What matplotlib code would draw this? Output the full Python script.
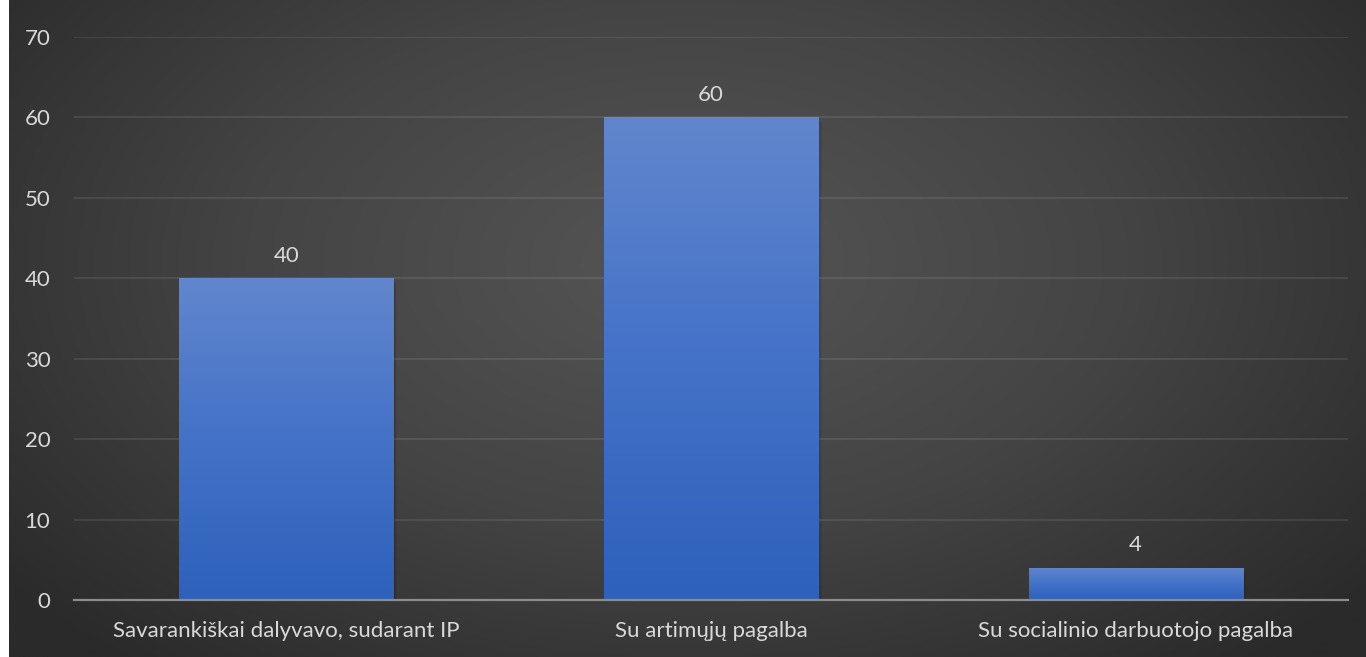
import numpy as np
import matplotlib
matplotlib.use("Agg")
import matplotlib.pyplot as plt
from matplotlib.colors import LinearSegmentedColormap
from matplotlib.patches import Rectangle

categories = ["Savarankiškai dalyvavo, sudarant IP", "Su artimųjų pagalba", "Su socialinio darbuotojo pagalba"]
values = [40, 60, 4]
y_ticks = [0, 10, 20, 30, 40, 50, 60, 70]

plt.rcParams['font.family'] = ['Lato', 'DejaVu Sans']
text_color = "#d9d9d9"
fs = 16

W, H = 1366, 657
fig = plt.figure(figsize=(W / 100, H / 100), dpi=100, facecolor="white")

# dark radial backdrop
bg = fig.add_axes([9 / W, 0, 1 - 9 / W, 1])
bg.set_axis_off()
yy, xx = np.mgrid[0:1:400j, 0:1:800j]
r = np.sqrt(((xx - 0.5) / 0.65) ** 2 + ((yy - 0.4) / 0.8) ** 2)
r = np.clip(r, 0, 1)
bg_cmap = LinearSegmentedColormap.from_list("bg", ["#555555", "#444444", "#2a2a2a"])
bg.imshow(r, cmap=bg_cmap, aspect="auto", extent=[0, 1, 1, 0], vmin=0, vmax=1)
bg.set_xlim(0, 1)
bg.set_ylim(1, 0)

ax = fig.add_axes([74 / W, 57 / H, 1274 / W, 563 / H])
ax.set_facecolor("none")
ax.set_xlim(-0.5, len(categories) - 0.5)
ax.set_ylim(0, 70)

bar_w = 0.504
bar_cmap = LinearSegmentedColormap.from_list("bar", ["#2d61bb", "#4472c8", "#6186cd"])
grad = np.linspace(0, 1, 256).reshape(-1, 1)
x = np.arange(len(categories))
bars = ax.bar(x, values, width=bar_w, color="none", zorder=3)
for b, v in zip(bars, values):
    x0 = b.get_x()
    # soft shadow
    for k, a in enumerate([0.10, 0.07, 0.04]):
        sh = Rectangle((x0 + 0.003 * (k + 1), -0.25 * (k + 1)), bar_w, v, facecolor="black",
                       edgecolor="none", alpha=a, zorder=2)
        ax.add_patch(sh)
    im = ax.imshow(grad, cmap=bar_cmap, aspect="auto", extent=[x0, x0 + bar_w, 0, v],
                   origin="lower", zorder=3)
    im.set_clip_path(b)
    ax.annotate(f"{v}", (b.get_x() + bar_w / 2, v), xytext=(0, 9), textcoords="offset points",
                ha="center", va="bottom", color=text_color, fontsize=fs)

ax.set_xlim(-0.5, len(categories) - 0.5)
ax.set_ylim(0, 70)
ax.set_yticks(y_ticks)
ax.set_xticks(x)
ax.set_xticklabels(categories)
ax.grid(axis="y", color="#ffffff", alpha=0.1, linewidth=1.2, zorder=1)
ax.set_axisbelow(True)
for s in ["top", "right", "left"]:
    ax.spines[s].set_visible(False)
ax.spines["bottom"].set_color("#8c8c8c")
ax.spines["bottom"].set_linewidth(1.6)
ax.spines["bottom"].set_zorder(4)
ax.tick_params(axis="both", length=0, colors=text_color, labelsize=fs)
ax.tick_params(axis="y", pad=17)
ax.tick_params(axis="x", pad=15)

fig.savefig("out.png", dpi=100, facecolor="white")
